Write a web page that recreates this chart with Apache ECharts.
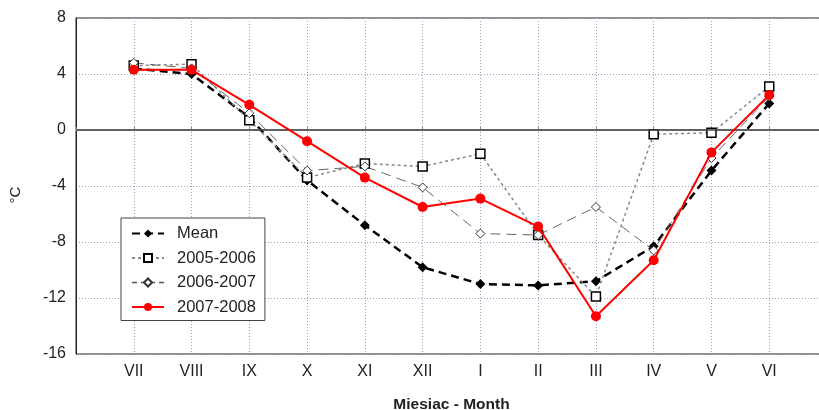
<!DOCTYPE html>
<html>
<head>
<meta charset="utf-8">
<script src="https://cdn.jsdelivr.net/npm/echarts@6/dist/echarts.min.js"></script>
<style>
html, body { margin: 0; padding: 0; background: #fff; }
#chart { width: 819px; height: 410px; }
</style>
</head>
<body>
<div id="chart"></div>
<script>
var months = ['VII', 'VIII', 'IX', 'X', 'XI', 'XII', 'I', 'II', 'III', 'IV', 'V', 'VI'];
var yTicks = [-16, -12, -8, -4, 0, 4, 8];

var mean = [4.4, 4.0, 0.9, -3.6, -6.8, -9.8, -11.0, -11.1, -10.8, -8.3, -2.9, 1.9];
var s0506 = [4.6, 4.7, 0.7, -3.4, -2.4, -2.6, -1.7, -7.5, -11.9, -0.3, -0.2, 3.1];
var s0607 = [4.8, 4.4, 1.2, -2.9, -2.6, -4.1, -7.4, -7.5, -5.5, -8.6, -2.0, 2.4];
var s0708 = [4.3, 4.3, 1.8, -0.8, -3.4, -5.5, -4.9, -6.9, -13.3, -9.3, -1.6, 2.5];

function pairs(arr) {
    return arr.map(function (v, i) { return [i + 1, v]; });
}

var chart = echarts.init(document.getElementById('chart'));
var font = 'Liberation Sans, Arial, sans-serif';

var option = {
    animation: false,
    textStyle: { fontFamily: font },
    grid: {
        left: 76, top: 18, bottom: 56, right: -8,
        outerBoundsMode: 'none',
        containLabel: false,
        show: true, borderColor: '#222', borderWidth: 1
    },
    legend: {
        orient: 'vertical',
        left: 121, top: 218,
        padding: [7, 9, 5, 10],
        itemWidth: 32, itemHeight: 10,
        itemGap: 7.5,
        backgroundColor: '#fff',
        borderColor: '#444', borderWidth: 1,
        textStyle: { fontSize: 16.5, color: '#222', fontFamily: font, padding: [0, 0, 0, 8] },
        data: [
            'Mean',
            '2005-2006',
            { name: '2006-2007', lineStyle: { type: [5, 4], width: 1.5, color: '#555' } },
            '2007-2008'
        ]
    },
    xAxis: {
        type: 'value',
        min: 0, max: 13, interval: 1,
        name: 'Miesiac - Month',
        nameLocation: 'middle',
        nameGap: 43,
        nameMoveOverlap: false,
        nameTextStyle: { fontSize: 15.5, fontWeight: 'bold', color: '#222', fontFamily: font },
        axisLine: { show: true, lineStyle: { color: '#bbb', width: 2 } },
        axisTick: { show: true, length: 3, inside: true, lineStyle: { color: '#888' } },
        axisLabel: {
            fontSize: 16, color: '#222', margin: 10,
            formatter: function (v) { return months[v - 1] || ''; }
        },
        splitLine: { show: true, lineStyle: { color: '#9a9ac0', type: [1, 2], width: 1 } }
    },
    yAxis: {
        type: 'value',
        min: -16, max: 8, interval: 4,
        name: '°C',
        nameLocation: 'middle',
        nameGap: 53,
        nameMoveOverlap: false,
        nameRotate: 90,
        nameTextStyle: { fontSize: 15, color: '#222', fontFamily: font, padding: [0, 18, 0, 0] },
        axisLine: { show: true, lineStyle: { color: '#222', width: 1 } },
        axisTick: { show: false },
        axisLabel: {
            fontSize: 16, color: '#222', margin: 10,
            formatter: function (v) { return yTicks.indexOf(v) >= 0 ? String(v) : ''; }
        },
        splitLine: { show: true, lineStyle: { color: '#9a9ac0', type: [1, 2], width: 1 } }
    },
    series: [
        {
            name: 'Mean',
            type: 'line',
            data: pairs(mean),
            symbol: 'diamond',
            symbolSize: 10,
            itemStyle: { color: '#000' },
            lineStyle: { color: '#000', width: 2.5, type: [8, 5] },
            markLine: {
                silent: true,
                symbol: 'none',
                label: { show: false },
                lineStyle: { color: '#444', width: 1.5, type: 'solid' },
                data: [{ yAxis: 0 }]
            },
            z: 3
        },
        {
            name: '2005-2006',
            type: 'line',
            data: pairs(s0506),
            symbol: 'rect',
            symbolSize: 9,
            itemStyle: { color: '#fff', borderColor: '#000', borderWidth: 1.5 },
            lineStyle: { color: '#888', width: 1.5, type: [3, 3] },
            z: 4
        },
        {
            name: '2006-2007',
            type: 'line',
            data: pairs(s0607),
            symbol: 'diamond',
            symbolSize: 9,
            itemStyle: { color: '#fff', borderColor: '#333', borderWidth: 1 },
            lineStyle: { color: '#666', width: 1, type: [10, 6] },
            z: 4
        },
        {
            name: '2007-2008',
            type: 'line',
            data: pairs(s0708),
            symbol: 'circle',
            symbolSize: 10,
            itemStyle: { color: '#ff0000' },
            lineStyle: { color: '#ff0000', width: 2 },
            z: 5
        }
    ]
};

chart.setOption(option);
</script>
</body>
</html>
